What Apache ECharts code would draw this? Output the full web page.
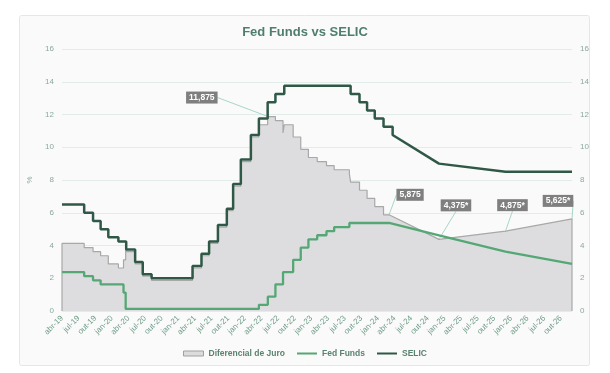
<!DOCTYPE html>
<html>
<head>
<meta charset="utf-8">
<script src="https://cdn.jsdelivr.net/npm/echarts@6/dist/echarts.min.js"></script>
<style>
html,body{margin:0;padding:0;background:#ffffff;}
#chart{width:610px;height:373px;}
</style>
</head>
<body>
<div id="chart"></div>
<script>
// ---- Data ----
const xTickLabels = ['abr-19','jul-19','out-19','jan-20','abr-20','jul-20','out-20','jan-21','abr-21','jul-21','out-21',
  'jan-22','abr-22','jul-22','out-22','jan-23','abr-23','jul-23','out-23','jan-24','abr-24','jul-24','out-24',
  'jan-25','abr-25','jul-25','out-25','jan-26','abr-26','jul-26','out-26'];
const axisStart = '2019-04-01';
const axisEnd = '2026-12-01';

// SELIC (% a.a.) - history (step changes) and projection
const selicDates = ['2019-04-01','2019-08-01','2019-09-19','2019-10-31','2019-12-12','2020-02-06','2020-03-19','2020-05-07',
  '2020-06-18','2020-08-06','2021-03-18','2021-05-06','2021-06-17','2021-08-05','2021-09-23','2021-10-28','2021-12-09',
  '2022-02-03','2022-03-17','2022-05-04','2022-06-16','2022-08-04','2023-08-03','2023-09-21','2023-11-02','2023-12-14',
  '2024-02-01','2024-03-21'];
const selicValues = [6.5,6.0,5.5,5.0,4.5,4.25,3.75,3.0,2.25,2.0,2.75,3.5,4.25,5.25,6.25,7.75,9.25,10.75,11.75,12.75,13.25,13.75,
  13.25,12.75,12.25,11.75,11.25,10.75];
const selicProjDates = ['2024-12-01','2025-12-01','2026-12-01'];
const selicProjValues = [9.0,8.5,8.5];

// Fed Funds (midpoint, %) - history and projection
const fedDates = ['2019-04-01','2019-08-01','2019-09-19','2019-10-31','2020-03-04','2020-03-16','2022-03-17','2022-05-05',
  '2022-06-16','2022-07-28','2022-09-22','2022-11-03','2022-12-15','2023-02-02','2023-03-23','2023-05-04','2023-07-27'];
const fedValues = [2.375,2.125,1.875,1.625,1.125,0.125,0.375,0.875,1.625,2.375,3.125,3.875,4.375,4.625,4.875,5.125,5.375];
const fedProjDates = ['2024-03-01','2024-12-01','2025-12-01','2026-12-01'];
const fedProjValues = [5.375,4.625,3.625,2.875];

// Diferencial de Juro (p.p.) - history and projection
const diffDates = ['2019-04-01','2019-08-01','2019-09-19','2019-10-31','2019-12-12','2020-02-06','2020-03-04','2020-03-16',
  '2020-03-19','2020-05-07','2020-06-18','2020-08-06','2021-03-18','2021-05-06','2021-06-17','2021-08-05','2021-09-23',
  '2021-10-28','2021-12-09','2022-02-03','2022-03-17','2022-05-04','2022-05-05','2022-06-16','2022-07-28','2022-08-04',
  '2022-09-22','2022-11-03','2022-12-15','2023-02-02','2023-03-23','2023-05-04','2023-07-27','2023-08-03','2023-09-21',
  '2023-11-02','2023-12-14','2024-02-01'];
const diffValues = [4.125,3.875,3.625,3.375,2.875,2.625,3.125,4.125,3.625,2.875,2.125,1.875,2.625,3.375,4.125,5.125,6.125,
  7.625,9.125,10.625,11.375,12.375,11.875,11.625,10.875,11.375,10.625,9.875,9.375,9.125,8.875,8.625,8.375,7.875,7.375,
  6.875,6.375,5.875];
const diffProjDates = ['2024-03-01','2024-12-01','2025-12-01','2026-12-01'];
const diffProjValues = [5.875,4.375,4.875,5.625];

// Callout labels on the differential
const calloutDates = ['2022-05-05','2024-03-01','2024-12-01','2025-12-01','2026-12-01'];
const calloutTexts = ['11,875','5,875','4,375*','4,875*','5,625*'];

// ---- Helpers ----
function monthIndex(s){
  const p = s.split('-').map(Number);
  const dim = new Date(p[0], p[1], 0).getDate();
  return (p[0]-2019)*12 + (p[1]-4) + (p[2]-1)/dim;
}
const xMin = monthIndex(axisStart), xMax = monthIndex(axisEnd);

function buildPath(dates, values, pDates, pValues, opts){
  opts = opts || {};
  const pts = [];
  const labelMap = {};
  (opts.labelDates||[]).forEach((d,i)=>{ labelMap[d] = opts.labelTexts[i]; });
  function push(x, y, d){
    if (d && labelMap[d] !== undefined){
      pts.push({value:[x,y], symbolSize:1, label:{show:true, formatter:labelMap[d]}});
    } else pts.push([x,y]);
  }
  if (opts.close) pts.push([monthIndex(dates[0]), 0]);
  dates.forEach((d,i)=>{
    const x = monthIndex(d);
    if (i>0) push(x, values[i-1]);
    push(x, values[i], d);
  });
  pDates.forEach((d,i)=>{ push(monthIndex(d), pValues[i], d); });
  if (opts.close) pts.push([monthIndex(pDates[pDates.length-1]), 0]);
  return pts;
}

const diffData = buildPath(diffDates, diffValues, diffProjDates, diffProjValues,
  {close:true, labelDates:calloutDates, labelTexts:calloutTexts});
const fedData = buildPath(fedDates, fedValues, fedProjDates, fedProjValues);
const selicData = buildPath(selicDates, selicValues, selicProjDates, selicProjValues);

const labelOffsets = {
  '11,875':[-66,-19], '5,875':[21,-20], '4,375*':[17,-34], '4,875*':[7,-26], '5,625*':[-14,-18]
};

const axisColor = '#8aa89e';
const chart = echarts.init(document.getElementById('chart'), null, {renderer:'canvas'});
chart.setOption({
  animation:false,
  backgroundColor:'#ffffff',
  graphic:[{
    type:'rect', z:-10, silent:true,
    shape:{x:19.5, y:15.5, width:570, height:350, r:2},
    style:{fill:'#fafafa', stroke:'#e2e8e6', lineWidth:1}
  }],
  title:{
    text:'Fed Funds vs SELIC', left:'center', top:21,
    textStyle:{fontFamily:'Liberation Sans', fontSize:13, fontWeight:'bold', color:'#4f7f6c'}
  },
  legend:{
    bottom:10, left:'center', itemGap:12, itemWidth:20, itemHeight:5,
    textStyle:{fontFamily:'Liberation Sans', fontSize:8.5, fontWeight:'bold', color:'#5a8270'},
    data:[
      {name:'Diferencial de Juro', icon:'rect', itemStyle:{color:'#dcdcdc', borderColor:'#a0a0a0', borderWidth:1}},
      {name:'Fed Funds', icon:'path://M0,0 H20 V2 H0 Z', itemStyle:{color:'#55a775'}},
      {name:'SELIC', icon:'path://M0,0 H20 V2 H0 Z', itemStyle:{color:'#2f5847'}}
    ]
  },
  grid:{left:62, right:38, top:49, bottom:62},
  xAxis:{
    type:'value', min:xMin, max:xMax, interval:3,
    axisLine:{show:false}, axisTick:{show:false}, splitLine:{show:false},
    axisLabel:{
      rotate:45, fontSize:8, color:'#6f9c87', fontFamily:'Liberation Sans', margin:6,
      showMaxLabel:false,
      formatter:function(v){
        const k = Math.round(v);
        if (Math.abs(v-k) > 1e-6 || k % 3 !== 0) return '';
        return xTickLabels[k/3] || '';
      }
    }
  },
  yAxis:[{
    type:'value', min:0, max:16, interval:2, position:'left',
    name:'%', nameLocation:'middle', nameGap:26, nameRotate:90,
    nameTextStyle:{fontSize:8, color:axisColor},
    axisLine:{show:false}, axisTick:{show:false},
    axisLabel:{fontSize:8, color:axisColor, margin:8, fontFamily:'Liberation Sans'},
    splitLine:{lineStyle:{color:'#e2ece9', width:1}}
  },{
    type:'value', min:0, max:16, interval:2, position:'right',
    axisLine:{show:false}, axisTick:{show:false},
    axisLabel:{fontSize:8, color:axisColor, margin:8, fontFamily:'Liberation Sans'},
    splitLine:{show:false}
  }],
  series:[{
    name:'Diferencial de Juro', type:'line', data:diffData, z:1,
    symbol:'circle', symbolSize:0, showSymbol:true,
    itemStyle:{color:'#a3a3a3'},
    lineStyle:{color:'#a8a8a8', width:1.2},
    areaStyle:{color:'#dddddf', opacity:1},
    label:{show:false, position:'inside', backgroundColor:'#7f7f7f', color:'#ffffff',
      fontSize:8.5, fontFamily:'Liberation Sans', fontWeight:'bold', padding:[2,3,1,3]},
    labelLine:{show:true, lineStyle:{color:'#a8d6cb', width:1}},
    labelLayout:function(p){
      const o = labelOffsets[p.text];
      return o ? {dx:o[0], dy:o[1]} : {};
    }
  },{
    name:'Fed Funds', type:'line', data:fedData, z:3,
    showSymbol:false, symbol:'none',
    itemStyle:{color:'#55a775'},
    lineStyle:{color:'#55a775', width:2.3}
  },{
    name:'SELIC', type:'line', data:selicData, z:4,
    showSymbol:false, symbol:'none',
    itemStyle:{color:'#2f5847'},
    lineStyle:{color:'#2f5847', width:2.5}
  }]
});
</script>
</body>
</html>
